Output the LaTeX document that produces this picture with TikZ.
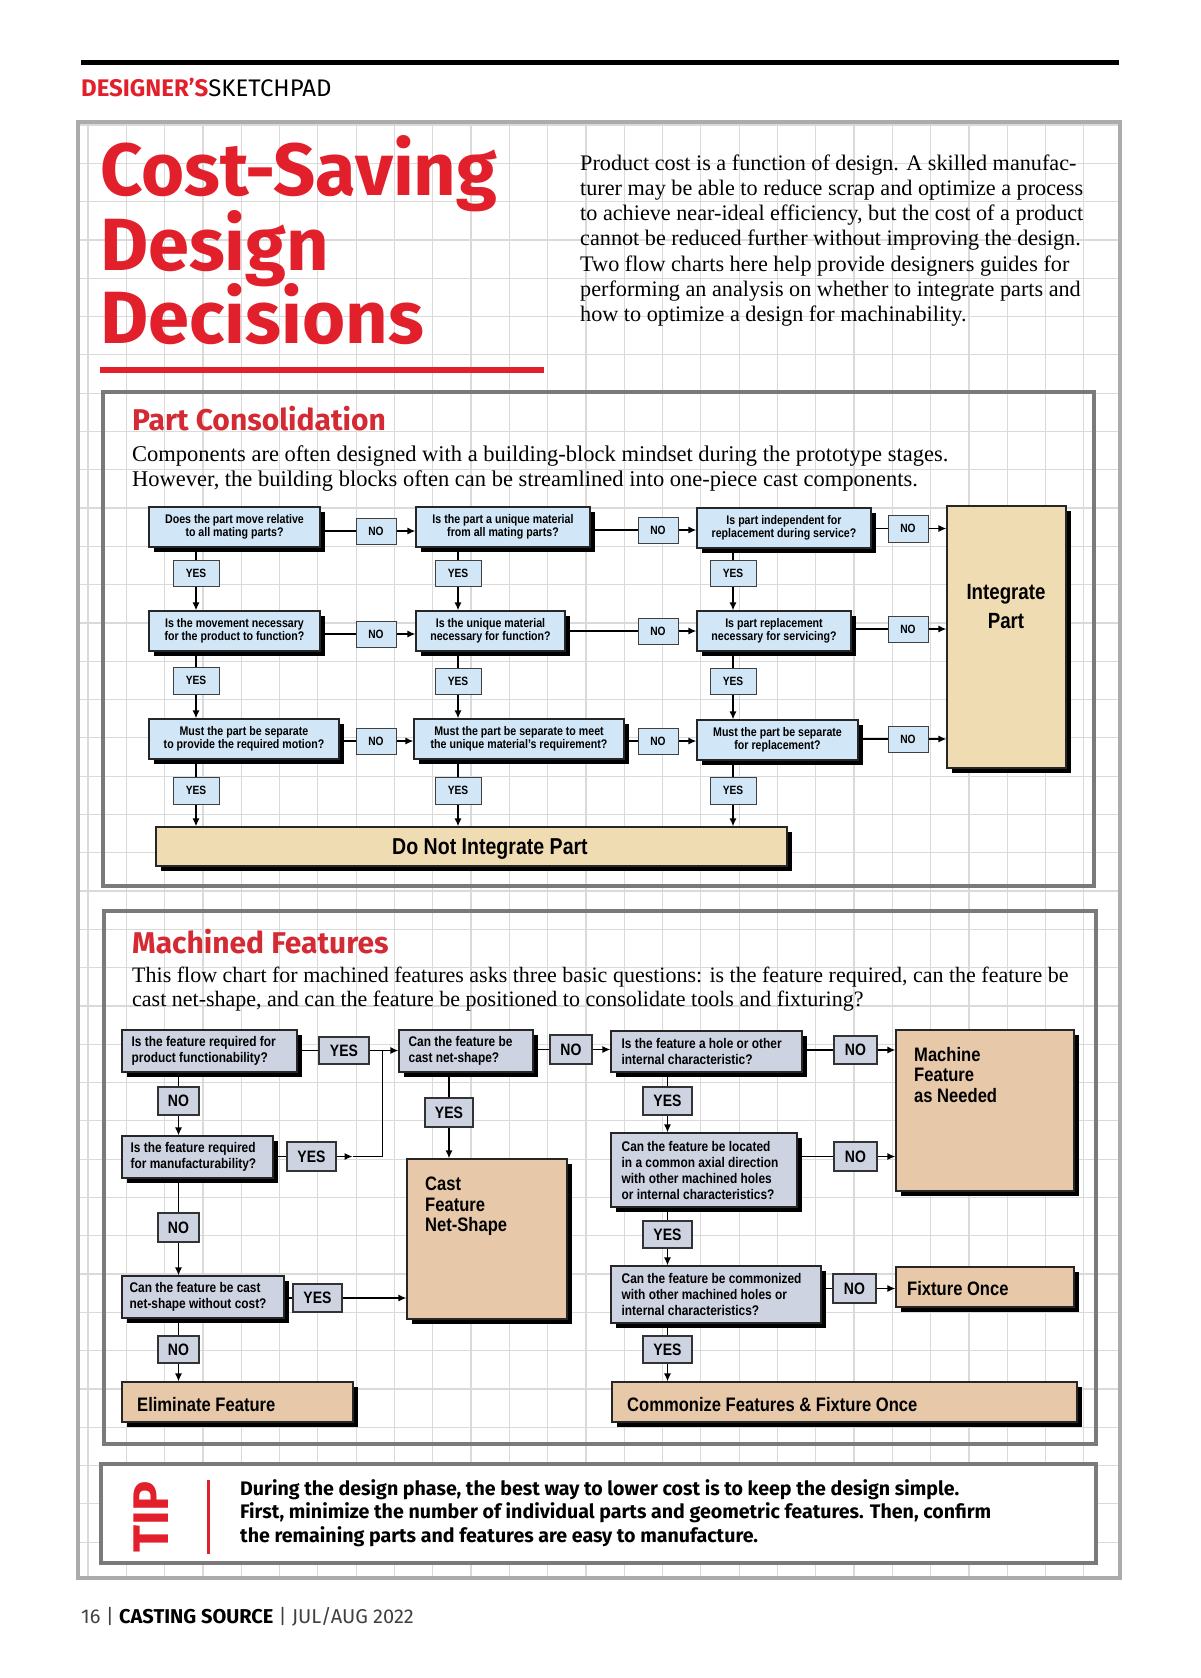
\documentclass[tikz,border=0pt]{standalone}
\usepackage{fontspec}
\setmainfont{Liberation Serif}
\newfontfamily\fc[FakeStretch=0.85]{Liberation Sans}
\newfontfamily\fs{Fira Sans}
\usetikzlibrary{shadows,arrows.meta,calc}
\definecolor{tred}{HTML}{E2202B}
\definecolor{hred}{HTML}{D42A33}
\definecolor{pblue}{HTML}{D1E6F6}
\definecolor{ptan}{HTML}{F0DCB2}
\definecolor{mgray}{HTML}{CED3E2}
\definecolor{mtan}{HTML}{E7C9A9}
\definecolor{gridc}{HTML}{DADADA}
\definecolor{panelc}{HTML}{7A7A7A}
\definecolor{framec}{HTML}{ABABAB}
\newcommand\bxx[7]{\pgfmathsetmacro\bw{#5-#3}\pgfmathsetmacro\bh{#6-#4}%
  \node[#1,minimum width=\bw pt,minimum height=\bh pt] (#2) at ({(#3+#5)/2},{(#4+#6)/2}) {#7};}
\begin{document}
\begin{tikzpicture}[x=1pt,y=-1pt,
  shd/.style={general shadow={fill=black,shadow xshift=5pt,shadow yshift=-5pt}},
  pq/.style={shd,draw=black!85,line width=1.1pt,fill=pblue,inner sep=0pt,align=center,font=\fc\bfseries\fontsize{12.5}{13.3}\selectfont},
  plab/.style={draw=black!75,line width=1pt,fill=pblue,inner sep=0pt,font=\fc\bfseries\fontsize{12}{12}\selectfont},
  pout/.style={shd,draw=black!85,line width=1.1pt,fill=ptan,inner sep=0pt},
  mq/.style={shd,draw=black!85,line width=1.1pt,fill=mgray,inner sep=0pt},
  mqt/.style={anchor=west,inner sep=0pt,align=left,font=\fc\bfseries\fontsize{14}{16}\selectfont},
  mlab/.style={draw=black!80,line width=1.3pt,fill=mgray,inner sep=0pt,font=\fc\bfseries\fontsize{16.5}{16.5}\selectfont},
  mout/.style={shd,draw=black!85,line width=1.1pt,fill=mtan,inner sep=0pt},
  otxt/.style={inner sep=0pt,align=left,font=\fc\bfseries\fontsize{19.5}{20.5}\selectfont},
  ln/.style={line width=1.5pt},
  arr/.style={line width=1.5pt,-{Latex[length=8pt,width=7pt]}},
  serif/.style={anchor=base west,inner sep=0pt},
]
\useasboundingbox (0,0) rectangle (1200,1678);
\fill[white] (0,0) rectangle (1200,1678);
% grid
\begin{scope}
\clip (78,122) rectangle (1120,1578);
\foreach \i in {0,...,27} \draw[gridc,line width=1.2pt] ({88+38.3*\i},122) -- ({88+38.3*\i},1578);
\foreach \j in {0,...,38} \draw[gridc,line width=1.2pt] (78,{125+38.3*\j}) -- (1120,{125+38.3*\j});
\end{scope}
\draw[framec,line width=3.5pt] (78,122) rectangle (1120,1578);
% header
\draw[line width=5pt] (81,62.5) -- (1119,62.5);
\node[anchor=base west,inner sep=0pt,font=\fs\fontsize{24}{24}\selectfont] (hdr) at (81,96)
  {\textcolor{tred}{\bfseries DESIGNER’S}SKETCHPAD};
% title
\node[anchor=base west,inner sep=0pt,text=tred,font=\fs\bfseries\fontsize{74}{74}\selectfont] (t1) at (100,195) {Cost-Saving};
\node[anchor=base west,inner sep=0pt,text=tred,font=\fs\bfseries\fontsize{74}{74}\selectfont] (t2) at (100,270) {Design};
\node[anchor=base west,inner sep=0pt,text=tred,font=\fs\bfseries\fontsize{74}{74}\selectfont] (t3) at (100,343) {Decisions};
\draw[tred,line width=6pt] (100,370) -- (544,370);
% intro
\foreach \t [count=\i] in {{Product cost is a function of design. A skilled manufac-},
  {turer may be able to reduce scrap and optimize a process},
  {to achieve near-ideal efficiency, but the cost of a product},
  {cannot be reduced further without improving the design.},
  {Two flow charts here help provide designers guides for},
  {performing an analysis on whether to integrate parts and},
  {how to optimize a design for machinability.}}
  \node[serif,font=\fontsize{22.2}{25}\selectfont] (intro\i) at (580,{170+25.3*(\i-1)}) {\t};
% panels
\draw[panelc,line width=3.5pt] (103,392) rectangle (1094,886);
\draw[panelc,line width=3.5pt] (104,911) rectangle (1096,1444);
\draw[panelc,line width=4pt,fill=white] (101,1464) rectangle (1096,1563);
% ---------- Part Consolidation
\node[anchor=base west,inner sep=0pt,text=hred,font=\fs\bfseries\fontsize{30}{30}\selectfont] (pch) at (132,430) {Part Consolidation};
\node[serif,font=\fontsize{22.5}{25}\selectfont] (pcd1) at (132,461) {Components are often designed with a building-block mindset during the prototype stages.};
\node[serif,font=\fontsize{22.5}{25}\selectfont] (pcd2) at (132,486) {However, the building blocks often can be streamlined into one-piece cast components.};

\bxx{pq}{q11}{149}{507}{320}{547}{Does the part move relative\\to all mating parts?}
\bxx{pq}{q12}{149}{611}{320}{651}{Is the movement necessary\\for the product to function?}
\bxx{pq}{q13}{149}{719}{339}{759}{Must the part be separate\\to provide the required motion?}
\bxx{pq}{q21}{416}{507}{590}{547}{Is the part a unique material\\from all mating parts?}
\bxx{pq}{q22}{416}{611}{565}{651}{Is the unique material\\necessary for function?}
\bxx{pq}{q23}{414}{719}{624}{759}{Must the part be separate to meet\\the unique material’s requirement?}
\bxx{pq}{q31}{697}{508}{871}{548}{Is part independent for\\replacement during service?}
\bxx{pq}{q32}{697}{611}{851}{651}{Is part replacement\\necessary for servicing?}
\bxx{pq}{q33}{697}{720}{858}{760}{Must the part be separate\\for replacement?}
\bxx{pout}{int}{947}{506}{1066}{768}{}
\bxx{pout}{dn}{156}{827}{787}{866}{}
\node[anchor=north,inner sep=0pt,align=center,font=\fc\bfseries\fontsize{22}{29}\selectfont] (intt) at (1006,584) {Integrate\\Part};
\node[anchor=base,inner sep=0pt,font=\fc\bfseries\fontsize{23}{23}\selectfont] (dnt) at (490,854) {Do Not Integrate Part};

\bxx{plab}{y11}{173}{560}{219}{586}{YES}
\bxx{plab}{y12}{173}{667}{219}{694}{YES}
\bxx{plab}{y13}{173}{777}{219}{804}{YES}
\bxx{plab}{y21}{435}{560}{481}{586}{YES}
\bxx{plab}{y22}{435}{668}{481}{694}{YES}
\bxx{plab}{y23}{435}{777}{481}{804}{YES}
\bxx{plab}{y31}{710}{560}{756}{586}{YES}
\bxx{plab}{y32}{710}{668}{756}{694}{YES}
\bxx{plab}{y33}{710}{777}{756}{804}{YES}
\bxx{plab}{n11}{356}{518}{396}{544}{NO}
\bxx{plab}{n12}{356}{621}{396}{647}{NO}
\bxx{plab}{n13}{356}{728}{396}{754}{NO}
\bxx{plab}{n21}{638}{517}{678}{543}{NO}
\bxx{plab}{n22}{638}{618}{678}{644}{NO}
\bxx{plab}{n23}{638}{728}{678}{754}{NO}
\bxx{plab}{n31}{888}{515}{928}{542}{NO}
\bxx{plab}{n32}{888}{616}{928}{642}{NO}
\bxx{plab}{n33}{888}{726}{928}{752}{NO}

\foreach \c in {1,2,3}{
  \draw[ln] (q\c1.south -| y\c1.north) -- (y\c1.north);
  \draw[arr] (y\c1.south) -- (y\c1.south |- q\c2.north);
  \draw[ln] (q\c2.south -| y\c2.north) -- (y\c2.north);
  \draw[arr] (y\c2.south) -- (y\c2.south |- q\c3.north);
  \draw[ln] (q\c3.south -| y\c3.north) -- (y\c3.north);
  \draw[arr] (y\c3.south) -- (y\c3.south |- dn.north);
}
\foreach \r in {1,2,3}{
  \draw[ln] (q1\r.east |- n1\r.west) -- (n1\r.west);
  \draw[arr] (n1\r.east) -- (n1\r.east -| q2\r.west);
  \draw[ln] (q2\r.east |- n2\r.west) -- (n2\r.west);
  \draw[arr] (n2\r.east) -- (n2\r.east -| q3\r.west);
  \draw[ln] (q3\r.east |- n3\r.west) -- (n3\r.west);
  \draw[arr] (n3\r.east) -- (n3\r.east -| int.west);
}
% ---------- Machined Features
\node[anchor=base west,inner sep=0pt,text=hred,font=\fs\bfseries\fontsize{30}{30}\selectfont] (mfh) at (132,953) {Machined Features};
\node[serif,font=\fontsize{22}{25}\selectfont] (mfd1) at (132,982) {This flow chart for machined features asks three basic questions: is the feature required, can the feature be};
\node[serif,font=\fontsize{22}{25}\selectfont] (mfd2) at (132,1006) {cast net-shape, and can the feature be positioned to consolidate tools and fixturing?};

\bxx{mq}{m11}{122}{1030}{297}{1072}{}
\bxx{mq}{m12}{122}{1136}{273}{1178}{}
\bxx{mq}{m13}{122}{1276}{284}{1318}{}
\bxx{mq}{m21}{399}{1030}{533}{1072}{}
\bxx{mq}{m31}{611}{1031}{802}{1072}{}
\bxx{mq}{m32}{611}{1133}{797}{1207}{}
\bxx{mq}{m33}{611}{1266}{821}{1323}{}
\node[mqt] (m11t) at ($(m11.west)+(10,0)$) {Is the feature required for\\product functionability?};
\node[mqt] (m12t) at ($(m12.west)+(9,0)$) {Is the feature required\\for manufacturability?};
\node[mqt] (m13t) at ($(m13.west)+(8,0)$) {Can the feature be cast\\net-shape without cost?};
\node[mqt] (m21t) at ($(m21.west)+(10,0)$) {Can the feature be\\cast net-shape?};
\node[mqt] (m31t) at ($(m31.west)+(11,0)$) {Is the feature a hole or other\\internal characteristic?};
\node[mqt] (m32t) at ($(m32.west)+(11,0)$) {Can the feature be located\\in a common axial direction\\with other machined holes\\or internal characteristics?};
\node[mqt] (m33t) at ($(m33.west)+(11,0)$) {Can the feature be commonized\\with other machined holes or\\internal characteristics?};

\bxx{mout}{cast}{407}{1159}{567}{1319}{}
\bxx{mout}{elim}{122}{1382}{353}{1422}{}
\bxx{mout}{mach}{896}{1030}{1074}{1191}{}
\bxx{mout}{fix}{896}{1267}{1074}{1307}{}
\bxx{mout}{comm}{612}{1382}{1077}{1422}{}
\node[otxt,anchor=north west] (castt) at (425,1177) {Cast\\Feature\\Net-Shape};
\node[otxt,anchor=north west] (macht) at (914,1047) {Machine\\Feature\\as Needed};
\node[otxt,anchor=base west] (elimt) at (137,1411) {Eliminate Feature};
\node[otxt,anchor=base west] (commt) at (627,1411) {Commonize Features \& Fixture Once};
\node[otxt,anchor=base west] (fixt) at (907,1295) {Fixture Once};

\bxx{mlab}{my11}{319}{1037}{369}{1064}{YES}
\bxx{mlab}{mn11}{158}{1087}{199}{1115}{NO}
\bxx{mlab}{my12}{287}{1142}{336}{1171}{YES}
\bxx{mlab}{mn12}{158}{1213}{199}{1242}{NO}
\bxx{mlab}{my13}{293}{1284}{342}{1312}{YES}
\bxx{mlab}{mn13}{158}{1336}{199}{1363}{NO}
\bxx{mlab}{mn21}{550}{1035}{592}{1064}{NO}
\bxx{mlab}{my21}{425}{1098}{473}{1127}{YES}
\bxx{mlab}{my31}{643}{1087}{692}{1115}{YES}
\bxx{mlab}{mn31}{834}{1036}{877}{1064}{NO}
\bxx{mlab}{my32}{643}{1221}{692}{1248}{YES}
\bxx{mlab}{mn32}{834}{1142}{877}{1171}{NO}
\bxx{mlab}{my33}{643}{1336}{692}{1363}{YES}
\bxx{mlab}{mn33}{833}{1274}{876}{1303}{NO}

% column 1
\draw[ln] (m11.east |- my11.west) -- (my11.west);
\draw[arr] (my11.east) -- (my11.east -| m21.west);
\draw[ln] (m11.south -| mn11.north) -- (mn11.north);
\draw[arr] (mn11.south) -- (mn11.south |- m12.north);
\draw[ln] (m12.east |- my12.west) -- (my12.west);
\path (my12.east) ++(16,0) coordinate (a12) ++(30,0) coordinate (j1);
\draw[arr] (my12.east) -- (a12);
\draw[ln] (a12) -- (j1) -- (j1 |- my11.east);
\draw[ln] (m12.south -| mn12.north) -- (mn12.north);
\draw[arr] (mn12.south) -- (mn12.south |- m13.north);
\draw[ln] (m13.east |- my13.west) -- (my13.west);
\draw[arr] (my13.east) -- (my13.east -| cast.west);
\draw[ln] (m13.south -| mn13.north) -- (mn13.north);
\draw[arr] (mn13.south) -- (mn13.south |- elim.north);
% column 2
\draw[ln] (m21.east |- mn21.west) -- (mn21.west);
\draw[arr] (mn21.east) -- (mn21.east -| m31.west);
\draw[ln] (m21.south -| my21.north) -- (my21.north);
\draw[arr] (my21.south) -- (my21.south |- cast.north);
% column 3
\draw[ln] (m31.east |- mn31.west) -- (mn31.west);
\draw[arr] (mn31.east) -- (mn31.east -| mach.west);
\draw[ln] (m31.south -| my31.north) -- (my31.north);
\draw[arr] (my31.south) -- (my31.south |- m32.north);
\draw[ln] (m32.east |- mn32.west) -- (mn32.west);
\draw[arr] (mn32.east) -- (mn32.east -| mach.west);
\draw[ln] (m32.south -| my32.north) -- (my32.north);
\draw[arr] (my32.south) -- (my32.south |- m33.north);
\draw[ln] (m33.east |- mn33.west) -- (mn33.west);
\draw[arr] (mn33.east) -- (mn33.east -| fix.west);
\draw[ln] (m33.south -| my33.north) -- (my33.north);
\draw[arr] (my33.south) -- (my33.south |- comm.north);
% ---------- Tip
\node[rotate=90,inner sep=0pt,text=tred,font=\fs\bfseries\fontsize{50}{50}\selectfont] (tip) at (151,1517) {TIP};
\draw[tred,line width=3pt] (208,1480) -- (208,1554);
\node[anchor=base west,inner sep=0pt,font=\fs\bfseries\fontsize{19.6}{23.5}\selectfont] (tipt1) at (240,1495) {During the design phase, the best way to lower cost is to keep the design simple.};
\node[anchor=base west,inner sep=0pt,font=\fs\bfseries\fontsize{19.6}{23.5}\selectfont] (tipt2) at (240,1518.5) {First, minimize the number of individual parts and geometric features. Then, confirm};
\node[anchor=base west,inner sep=0pt,font=\fs\bfseries\fontsize{19.6}{23.5}\selectfont] (tipt3) at (240,1542) {the remaining parts and features are easy to manufacture.};
% footer
\node[anchor=base west,inner sep=0pt,font=\fs\fontsize{20}{20}\selectfont] (foot) at (81,1623)
  {\textcolor{black!75}{16\ |\ }\textbf{CASTING SOURCE}\ \textcolor{black!75}{|\ JUL/AUG 2022}};
\end{tikzpicture}
\end{document}
